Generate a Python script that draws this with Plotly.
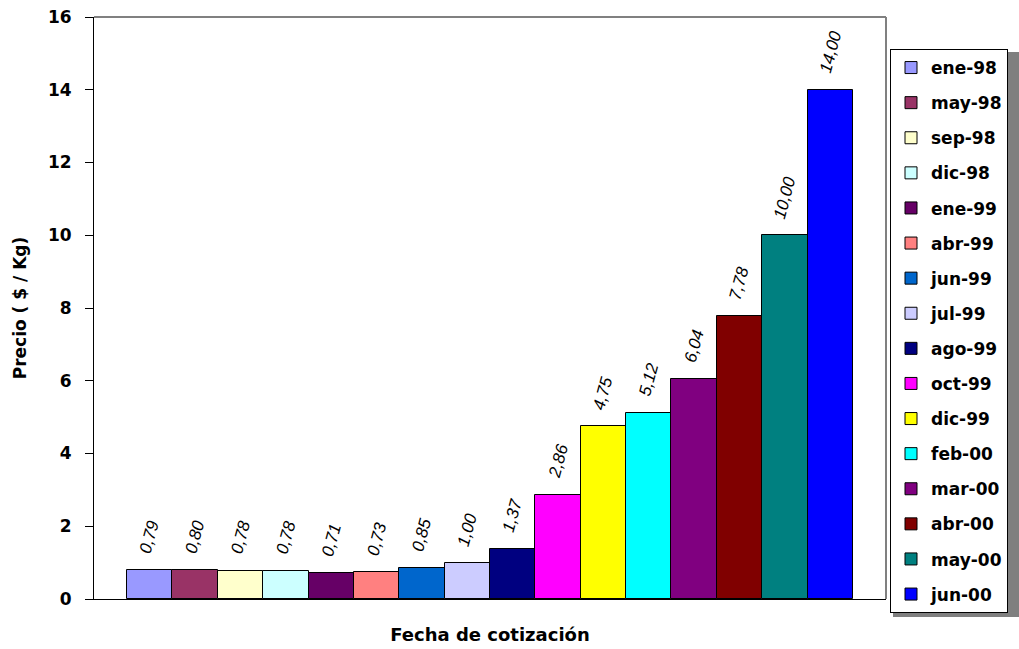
import plotly.graph_objects as go

fechas = ["ene-98", "may-98", "sep-98", "dic-98", "ene-99", "abr-99", "jun-99", "jul-99",
          "ago-99", "oct-99", "dic-99", "feb-00", "mar-00", "abr-00", "may-00", "jun-00"]
precios = [0.79, 0.80, 0.78, 0.78, 0.71, 0.73, 0.85, 1.00,
           1.37, 2.86, 4.75, 5.12, 6.04, 7.78, 10.00, 14.00]
colores = ["#9999FF", "#993366", "#FFFFCC", "#CCFFFF", "#660066", "#FF8080", "#0066CC", "#CCCCFF",
           "#000080", "#FF00FF", "#FFFF00", "#00FFFF", "#800080", "#800000", "#008080", "#0000FF"]
y_ticks = [0, 2, 4, 6, 8, 10, 12, 14, 16]

BOLD = "DejaVu Sans, Arial, sans-serif"
LBL = "Liberation Sans, Arial, sans-serif"

fig = go.Figure()
for i, (f, p, c) in enumerate(zip(fechas, precios, colores)):
    fig.add_trace(go.Bar(
        x=[f], y=[p], name=f, legendgroup=f"g{i}",
        marker=dict(color=c, line=dict(color="#000000", width=1)),
        width=1,
    ))

annotations = []
for f, p in zip(fechas, precios):
    annotations.append(dict(
        x=f, y=p, xref="x", yref="y", text=f"{p:.2f}".replace(".", ","),
        showarrow=False, textangle=-75, yanchor="bottom", xanchor="center", yshift=12,
        font=dict(family=LBL, size=17, color="#000000", style="italic"),
    ))

# plot area in pixels: x 94..886, y 17..599
FW, FH = 1019, 649
L, R, T, B = 94, 133, 17, 50
W = FW - L - R
H = FH - T - B

def px_x(x):
    return (x - L) / W

def px_y(y):
    return (FH - B - y) / H

fig.update_layout(
    width=FW, height=FH,
    margin=dict(l=L, r=R, t=T, b=B, autoexpand=False),
    paper_bgcolor="white", plot_bgcolor="white",
    barmode="overlay", bargap=0,
    font=dict(family=BOLD, color="#000000"),
    showlegend=True,
    legend=dict(
        x=px_x(890), y=px_y(49), xanchor="left", yanchor="top",
        bordercolor="#000000", borderwidth=1, bgcolor="white",
        font=dict(family=BOLD, size=17, color="#000000", weight="bold"),
        itemwidth=30, tracegroupgap=10, traceorder="grouped",
    ),
    annotations=annotations,
    shapes=[
        dict(type="rect", xref="paper", yref="paper",
             x0=px_x(893), x1=px_x(1019), y0=px_y(52), y1=px_y(617),
             line=dict(width=0), fillcolor="#7f7f7f", layer="below"),
        dict(type="line", xref="paper", yref="paper", x0=0, x1=1, y0=1, y1=1,
             line=dict(color="#808080", width=2)),
        dict(type="line", xref="paper", yref="paper", x0=1, x1=1, y0=0, y1=1,
             line=dict(color="#808080", width=2)),
    ],
    xaxis=dict(
        type="category", categoryorder="array", categoryarray=fechas,
        range=[-1.23, 16.23], showticklabels=False, showgrid=False, zeroline=False,
        showline=True, linecolor="#000000", linewidth=1,
        ticks="", fixedrange=True,
        title=dict(text="Fecha de cotización", standoff=29,
                   font=dict(family=BOLD, size=18, color="#000000", weight="bold")),
    ),
    yaxis=dict(
        range=[0, 16], tickvals=y_ticks, ticktext=[str(v) for v in y_ticks],
        showgrid=False, zeroline=False, showline=True, linecolor="#000000", linewidth=1,
        ticks="outside", ticklen=8, tickcolor="#000000", ticklabelstandoff=10,
        tickfont=dict(family=BOLD, size=17, color="#000000", weight="bold"),
        title=dict(text="Precio ( $ / Kg)", standoff=16,
                   font=dict(family=BOLD, size=17, color="#000000", weight="bold")),
    ),
)

fig.write_html("out.html")
